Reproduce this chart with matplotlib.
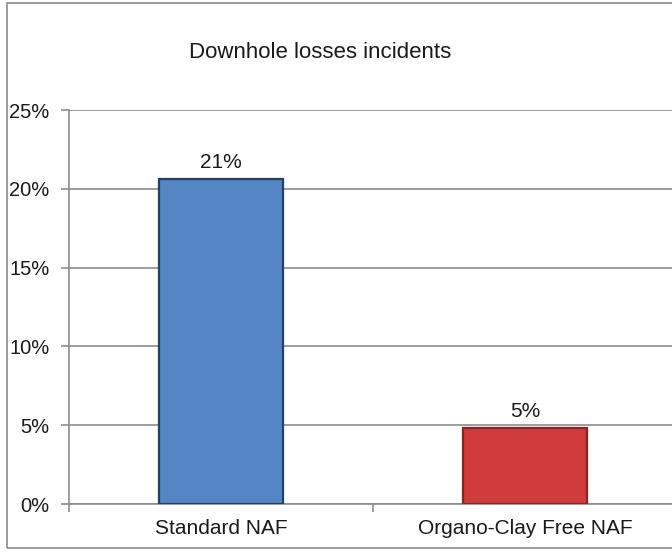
import matplotlib
matplotlib.use("Agg")
import matplotlib.pyplot as plt
from matplotlib.patches import Rectangle
from matplotlib.ticker import FuncFormatter, FixedLocator

categories = ["Standard NAF", "Organo-Clay Free NAF"]
values = [0.206, 0.048]
labels = ["21%", "5%"]
title = "Downhole losses incidents"
yticks = [0, 0.05, 0.10, 0.15, 0.20, 0.25]

plt.rcParams['font.family'] = ['Liberation Sans', 'DejaVu Sans']

fig = plt.figure(figsize=(6.72, 5.52), dpi=100)
fig.patches.append(Rectangle((7/672, 4/552), 1.0, 545/552, transform=fig.transFigure,
                             fill=False, edgecolor='#8c8c8c', linewidth=1.2))

ax = fig.add_axes([69/672, 48/552, 608/672, 394/552])
x = list(range(len(categories)))
bars = ax.bar(x, values, width=0.41, color=['#5485c4', '#d03c3c'],
              edgecolor=['#243f63', '#8a2424'], linewidth=1.6, zorder=3)
ax.bar_label(bars, labels=labels, padding=5, fontsize=15, color='#1a1a1a')

ax.set_xlim(-0.5, 1.5)
ax.set_ylim(0, 0.25)
ax.set_yticks(yticks)
ax.yaxis.set_major_formatter(FuncFormatter(lambda v, p: f"{v*100:.0f}%"))
ax.grid(axis='y', color='#8c8c8c', linewidth=1.2, zorder=0)
ax.set_axisbelow(True)

ax.xaxis.set_major_locator(FixedLocator([-0.5, 0.5, 1.5]))
ax.xaxis.set_minor_locator(FixedLocator(x))
ax.set_xticklabels([])
ax.set_xticklabels(categories, minor=True)
ax.tick_params(axis='x', which='minor', length=0, labelsize=15, pad=11, labelcolor='#1a1a1a')
ax.tick_params(axis='x', which='major', length=6, color='#8c8c8c', width=1.2, direction='out')
ax.tick_params(axis='y', length=6, color='#8c8c8c', width=1.2, labelsize=14.5, pad=8, labelcolor='#1a1a1a')

for s in ['top', 'right']:
    ax.spines[s].set_visible(False)
for s in ['left', 'bottom']:
    ax.spines[s].set_color('#8c8c8c')
    ax.spines[s].set_linewidth(1.2)

fig.text(320/672, 1 - 53/552, title, ha='center', va='center', fontsize=16, color='#1a1a1a')

fig.savefig("out.png", dpi=100)
